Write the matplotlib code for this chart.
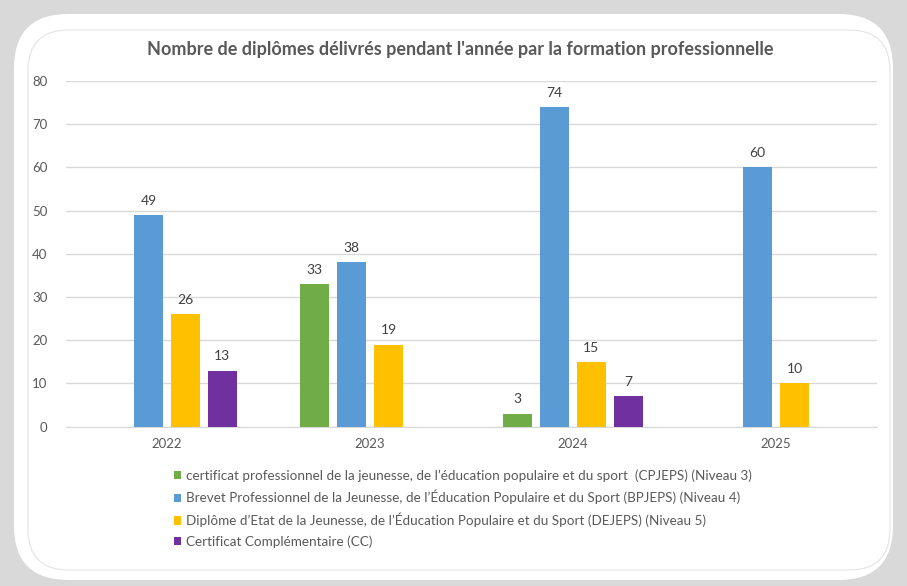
import matplotlib
matplotlib.use('Agg')
import matplotlib.pyplot as plt
import numpy as np
from matplotlib.patches import FancyBboxPatch, Patch

plt.rcParams['font.family'] = ['Lato', 'DejaVu Sans']

# Data
years = ['2022', '2023', '2024', '2025']
series = [
    "certificat professionnel de la jeunesse, de l\u2019éducation populaire et du sport  (CPJEPS) (Niveau 3)",
    "Brevet Professionnel de la Jeunesse, de l\u2019Éducation Populaire et du Sport (BPJEPS) (Niveau 4)",
    "Diplôme d\u2019Etat de la Jeunesse, de l\u2019Éducation Populaire et du Sport (DEJEPS) (Niveau 5)",
    "Certificat Complémentaire (CC)",
]
cpjeps = [None, 33, 3, None]
bpjeps = [49, 38, 74, 60]
dejeps = [26, 19, 15, 10]
cc = [13, None, 7, None]
colors = ['#70AD47', '#5B9BD5', '#FFC000', '#7030A0']

W, H = 907, 586
fig = plt.figure(figsize=(W / 100, H / 100), dpi=100)
fig.patch.set_facecolor('#d9d9d9')

def px(x, y):
    return x / W, 1 - y / H

# white card with rounded corners
card = FancyBboxPatch(px(14, 580), (893 - 14) / W, (580 - 14) / H,
                      boxstyle='round,pad=0,rounding_size=0.06',
                      transform=fig.transFigure, facecolor='white',
                      edgecolor='none', zorder=-3, mutation_aspect=W / H)
fig.patches.append(card)
inner = FancyBboxPatch(px(28, 570), (890 - 28) / W, (570 - 30) / H,
                       boxstyle='round,pad=0,rounding_size=0.045',
                       transform=fig.transFigure, facecolor='none',
                       edgecolor='#e3e3e3', linewidth=0.8, zorder=-2,
                       mutation_aspect=W / H)
fig.patches.append(inner)

ax = fig.add_axes([65.5 / W, 1 - 426.7 / H, (877.5 - 65.5) / W, (426.7 - 81) / H])
ax.set_facecolor('none')
ax.set_zorder(2)

x = np.arange(len(years))
step = 0.182
width = 0.143
all_series = [cpjeps, bpjeps, dejeps, cc]
for i, (vals, col) in enumerate(zip(all_series, colors)):
    off = (i - 1.5) * step
    for xi, v in zip(x, vals):
        if v is None:
            continue
        ax.bar(xi + off, v, width=width, color=col, zorder=3)
        ax.annotate(str(v), (xi + off, v), xytext=(0, 6), textcoords='offset points',
                    ha='center', va='bottom', fontsize=10, color='#404040')

ax.set_xlim(-0.5, len(years) - 0.5)
ax.set_ylim(0, 80)
ax.set_yticks(range(0, 81, 10))
ax.set_xticks(x)
ax.set_xticklabels(years)
ax.grid(axis='y', color='#d9d9d9', linewidth=1, zorder=0)
for s in ['top', 'right', 'left']:
    ax.spines[s].set_visible(False)
ax.spines['bottom'].set_color('#d9d9d9')
ax.tick_params(axis='both', length=0, labelsize=9.5, labelcolor='#595959')
ax.tick_params(axis='y', pad=13)
ax.tick_params(axis='x', pad=8)

fig.text(460 / W, 1 - 50 / H,
         "Nombre de diplômes délivrés pendant l'année par la formation professionnelle",
         ha='center', va='center', fontsize=13, fontweight='bold', color='#595959')

handles = [Patch(facecolor=c, edgecolor='none') for c in colors]
fig.legend(handles, series, loc='upper left', bbox_to_anchor=px(174, 469),
           frameon=False, fontsize=9.7, labelcolor='#595959',
           handlelength=0.55, handleheight=0.55, handletextpad=0.35,
           labelspacing=0.62, borderaxespad=0, borderpad=0)

fig.savefig('out.png', dpi=100, facecolor=fig.get_facecolor())
